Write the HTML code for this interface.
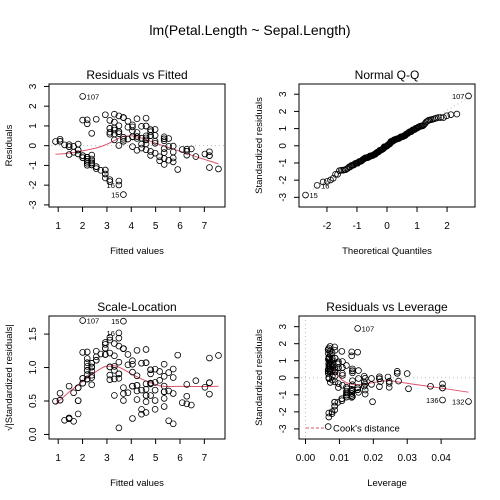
<!DOCTYPE html>
<html><head><meta charset="utf-8"><style>
html,body{margin:0;padding:0;background:#fff;width:500px;height:500px;overflow:hidden}
svg{display:block;font-family:"Liberation Sans",Arial,sans-serif}
</style></head><body>
<svg id="chart" width="500" height="500" viewBox="0 0 500 500" xmlns="http://www.w3.org/2000/svg">
<rect width="500" height="500" fill="#fff"/>
<text x="250" y="35" text-anchor="middle" font-size="14">lm(Petal.Length ~ Sepal.Length)</text>
</svg>
<script>
// iris data
const sepalLength = [5.1,4.9,4.7,4.6,5.0,5.4,4.6,5.0,4.4,4.9,5.4,4.8,4.8,4.3,5.8,5.7,5.4,5.1,5.7,5.1,5.4,5.1,4.6,5.1,4.8,5.0,5.0,5.2,5.2,4.7,4.8,5.4,5.2,5.5,4.9,5.0,5.5,4.9,4.4,5.1,5.0,4.5,4.4,5.0,5.1,4.8,5.1,4.6,5.3,5.0,
7.0,6.4,6.9,5.5,6.5,5.7,6.3,4.9,6.6,5.2,5.0,5.9,6.0,6.1,5.6,6.7,5.6,5.8,6.2,5.6,5.9,6.1,6.3,6.1,6.4,6.6,6.8,6.7,6.0,5.7,5.5,5.5,5.8,6.0,5.4,6.0,6.7,6.3,5.6,5.5,5.5,6.1,5.8,5.0,5.6,5.7,5.7,6.2,5.1,5.7,
6.3,5.8,7.1,6.3,6.5,7.6,4.9,7.3,6.7,7.2,6.5,6.4,6.8,5.7,5.8,6.4,6.5,7.7,7.7,6.0,6.9,5.6,7.7,6.3,6.7,7.2,6.2,6.1,6.4,7.2,7.4,7.9,6.4,6.3,6.1,7.7,6.3,6.4,6.0,6.9,6.7,6.9,5.8,6.8,6.7,6.7,6.3,6.5,6.2,5.9];
const petalLength = [1.4,1.4,1.3,1.5,1.4,1.7,1.4,1.5,1.4,1.5,1.5,1.6,1.4,1.1,1.2,1.5,1.3,1.4,1.7,1.5,1.7,1.5,1.0,1.7,1.9,1.6,1.6,1.5,1.4,1.6,1.6,1.5,1.5,1.4,1.5,1.2,1.3,1.4,1.3,1.5,1.3,1.3,1.3,1.6,1.9,1.4,1.6,1.4,1.5,1.4,
4.7,4.5,4.9,4.0,4.6,4.5,4.7,3.3,4.6,3.9,3.5,4.2,4.0,4.7,3.6,4.4,4.5,4.1,4.5,3.9,4.8,4.0,4.9,4.7,4.3,4.4,4.8,5.0,4.5,3.5,3.8,3.7,3.9,5.1,4.5,4.5,4.7,4.4,4.1,4.0,4.4,4.6,4.0,3.3,4.2,4.2,4.2,4.3,3.0,4.1,
6.0,5.1,5.9,5.6,5.8,6.6,4.5,6.3,5.8,6.1,5.1,5.3,5.5,5.0,5.1,5.3,5.5,6.7,6.9,5.0,5.7,4.9,6.7,4.9,5.7,6.0,4.8,4.9,5.6,5.8,6.1,6.4,5.6,5.1,5.6,6.1,5.6,5.5,4.8,5.4,5.6,5.1,5.1,5.9,5.7,5.2,5.0,5.2,5.4,5.1];
const ticksFitted = [1,2,3,4,5,6,7];
const ticksResid = [-3,-2,-1,0,1,2,3];
const ticksTheo = [-2,-1,0,1,2];
const ticksSqrt = [0,0.5,1,1.5];
const ticksSqrtLabels = ["0.0","0.5","1.0","1.5"];
const ticksLev = [0,0.01,0.02,0.03,0.04];
const ticksLevLabels = ["0.00","0.01","0.02","0.03","0.04"];

const NS="http://www.w3.org/2000/svg";
const svg=document.getElementById('chart');
function el(tag,attrs,parent,txt){const e=document.createElementNS(NS,tag);for(const k in attrs)e.setAttribute(k,attrs[k]);if(txt!==undefined)e.textContent=txt;(parent||svg).appendChild(e);return e;}

// regression
const n=sepalLength.length;
const mx=sepalLength.reduce((a,b)=>a+b,0)/n, my=petalLength.reduce((a,b)=>a+b,0)/n;
let sxx=0,sxy=0;for(let i=0;i<n;i++){sxx+=(sepalLength[i]-mx)**2;sxy+=(sepalLength[i]-mx)*(petalLength[i]-my);}
const b1=sxy/sxx,b0=my-b1*mx;
const fitted=sepalLength.map(x=>b0+b1*x);
const resid=petalLength.map((y,i)=>y-fitted[i]);
const sigma=Math.sqrt(resid.reduce((a,r)=>a+r*r,0)/(n-2));
const hat=sepalLength.map(x=>1/n+(x-mx)**2/sxx);
const rstd=resid.map((r,i)=>r/(sigma*Math.sqrt(1-hat[i])));
const sqrtAbs=rstd.map(r=>Math.sqrt(Math.abs(r)));
const cook=rstd.map((r,i)=>r*r*hat[i]/(2*(1-hat[i])));

function qnorm(p){const a=[-39.69683028665376,220.9460984245205,-275.9285104469687,138.3577518672690,-30.66479806614716,2.506628277459239],
b=[-54.47609879822406,161.5858368580409,-155.6989798598866,66.80131188771972,-13.28068155288572],
c=[-0.007784894002430293,-0.3223964580411365,-2.400758277161838,-2.549732539343734,4.374664141464968,2.938163982698783],
d=[0.007784695709041462,0.3224671290700398,2.445134137142996,3.754408661907416];
const pl=0.02425;let q,r;
if(p<pl){q=Math.sqrt(-2*Math.log(p));return(((((c[0]*q+c[1])*q+c[2])*q+c[3])*q+c[4])*q+c[5])/((((d[0]*q+d[1])*q+d[2])*q+d[3])*q+1);}
if(p>1-pl){q=Math.sqrt(-2*Math.log(1-p));return-(((((c[0]*q+c[1])*q+c[2])*q+c[3])*q+c[4])*q+c[5])/((((d[0]*q+d[1])*q+d[2])*q+d[3])*q+1);}
q=p-0.5;r=q*q;return(((((a[0]*r+a[1])*r+a[2])*r+a[3])*r+a[4])*r+a[5])*q/(((((b[0]*r+b[1])*r+b[2])*r+b[3])*r+b[4])*r+1);}

function lowess(x,y,f,iter){
  const idx=x.map((_,i)=>i).sort((a,b)=>x[a]-x[b]);
  const xs=idx.map(i=>x[i]),ys=idx.map(i=>y[i]);const m=xs.length;
  const ns=Math.max(2,Math.min(m,Math.floor(f*m+1e-7)));
  const range=xs[m-1]-xs[0];
  let rw=new Array(m).fill(1),fit=new Array(m).fill(0);
  for(let it=0;it<=iter;it++){
    let nl=0,nr=ns-1;
    for(let i=0;i<m;i++){
      while(nr<m-1&&xs[i]-xs[nl]>xs[nr+1]-xs[i]){nl++;nr++;}
      const h=Math.max(xs[i]-xs[nl],xs[nr]-xs[i]);const h9=.999*h,h1=.001*h;
      let w=[],sw=0;
      for(let j=0;j<m;j++){const r=Math.abs(xs[j]-xs[i]);let wj=0;if(r<=h9){wj=r<=h1?1:Math.pow(1-Math.pow(r/h,3),3);wj*=rw[j];}w.push(wj);sw+=wj;}
      if(sw<=0){fit[i]=ys[i];continue;}
      for(let j=0;j<m;j++)w[j]/=sw;
      let a=0;for(let j=0;j<m;j++)a+=w[j]*xs[j];
      let bb=0;for(let j=0;j<m;j++)bb+=w[j]*(xs[j]-a)**2;
      if(h>0&&Math.sqrt(bb)>.001*range){const bcoef=(xs[i]-a)/bb;for(let j=0;j<m;j++)w[j]*=(1+bcoef*(xs[j]-a));}
      let s=0;for(let j=0;j<m;j++)s+=w[j]*ys[j];fit[i]=s;
    }
    if(it===iter)break;
    const res=ys.map((v,i)=>v-fit[i]);const ar=res.map(Math.abs).sort((a,b)=>a-b);
    const med=m%2?ar[(m-1)/2]:(ar[m/2-1]+ar[m/2])/2;const cmad=6*med;
    if(cmad<1e-7*ar[m-1])break;
    rw=res.map(r=>{r=Math.abs(r);return r<=.001*cmad?1:r>.999*cmad?0:(1-(r/cmad)**2)**2;});
  }
  return {x:xs,y:fit};
}
function ext(lo,hi,f){const d=hi-lo;return[lo-f*d,hi+f*d];}
const mn=a=>Math.min(...a),mxa=a=>Math.max(...a);

const boxes=[{x0:49,x1:225,y0:84,y1:207},{x0:299,x1:475,y0:84,y1:207},{x0:49,x1:225,y0:316,y1:439},{x0:299,x1:475,y0:316,y1:439}];
let clipN=0;
function panel(k,opt){
  const B=boxes[k];
  const g=el('g',{},svg);
  
  
  const [xl,xh]=ext(opt.xlim[0],opt.xlim[1],0.04),[yl,yh]=ext(opt.ylim[0],opt.ylim[1],0.04);
  const X=v=>B.x0+(v-xl)/(xh-xl)*(B.x1-B.x0),Y=v=>B.y1-(v-yl)/(yh-yl)*(B.y1-B.y0);
  const cid='clip'+(clipN++);
  const cp=el('clipPath',{id:cid},g);el('rect',{x:B.x0,y:B.y0,width:B.x1-B.x0,height:B.y1-B.y0},cp);
  const inner=el('g',{'clip-path':'url(#'+cid+')'},g);
  if(opt.refs)opt.refs(inner,X,Y,xl,xh,yl,yh);
  const ptsG=el('g',{},g);
  
  
  for(let i=0;i<opt.px.length;i++){
    const c=el('circle',{cx:X(opt.px[i]).toFixed(2),cy:Y(opt.py[i]).toFixed(2),r:2.9,fill:'none',stroke:'#000','stroke-width':0.8},ptsG);
    
    
  }
  if(opt.smooth){const s=opt.smooth;const d=s.x.map((v,i)=>(i?'L':'M')+X(v).toFixed(2)+','+Y(s.y[i]).toFixed(2)).join('');
    const p=el('path',{d:d,fill:'none',stroke:'#DF536B','stroke-width':1},inner);
    
    }
  // id labels
  if(opt.ids){const ids=opt.ids;const lx=ids.map(i=>opt.lx[i]);const mid=(mn(lx)+mxa(lx))/2;
    ids.forEach((i,j)=>{const x=X(opt.lx[i]),y=Y(opt.ly[i]);const right=opt.lx[i]<=mid;
      const t=el('text',{x:right?x+4:x-4,y:y+3,'font-size':7.5,'text-anchor':right?'start':'end',fill:'#000'},g,String(opt.labels[j]));
      
      });}
  const box=el('rect',{x:B.x0,y:B.y0,width:B.x1-B.x0,height:B.y1-B.y0,fill:'none',stroke:'#000','stroke-width':1},g);
  
  
  // x axis
  const xa=el('g',{},g);
  
  
  el('line',{x1:X(opt.xt[0]),x2:X(opt.xt[opt.xt.length-1]),y1:B.y1,y2:B.y1,stroke:'#000'},xa);
  opt.xt.forEach((t,i)=>{el('line',{x1:X(t),x2:X(t),y1:B.y1,y2:B.y1+5,stroke:'#000'},xa);
    const tx=el('text',{x:X(t),y:B.y1+22,'font-size':10,'text-anchor':'middle'},xa,opt.xtl?opt.xtl[i]:String(t));
    
    });
  const ya=el('g',{},g);
  
  
  el('line',{x1:B.x0,x2:B.x0,y1:Y(opt.yt[0]),y2:Y(opt.yt[opt.yt.length-1]),stroke:'#000'},ya);
  opt.yt.forEach((t,i)=>{el('line',{x1:B.x0-5,x2:B.x0,y1:Y(t),y2:Y(t),stroke:'#000'},ya);
    const tx=el('text',{x:B.x0-13,y:Y(t),'font-size':10,'text-anchor':'middle',transform:'rotate(-90 '+(B.x0-13)+' '+Y(t)+')'},ya,opt.ytl?opt.ytl[i]:String(t));
    
    });
  const ti=el('text',{x:(B.x0+B.x1)/2,y:B.y0-5,'font-size':12,'text-anchor':'middle'},g,opt.title);
  
  
  const xt=el('text',{x:(B.x0+B.x1)/2,y:B.y1+47,'font-size':9.5,'text-anchor':'middle'},g,opt.xlab);
  
  
  const yx=B.x0-37,yc=(B.y0+B.y1)/2;
  const yt=el('text',{x:yx,y:yc,'font-size':9.5,'text-anchor':'middle',transform:'rotate(-90 '+yx+' '+yc+')'},g,opt.ylab);
  
  
  return {X,Y,B,g};
}
function topIdx(arr,k){return arr.map((v,i)=>i).sort((a,b)=>arr[b]-arr[a]).slice(0,k);}

// Panel 1
const absR=resid.map(Math.abs);const id1=topIdx(absR,3);
panel(0,{name:'residuals-vs-fitted-panel',title:'Residuals vs Fitted',xlab:'Fitted values',ylab:'Residuals',
  xlim:[mn(fitted),mxa(fitted)],ylim:ext(mn(resid),mxa(resid),0.08),px:fitted,py:resid,xt:ticksFitted,yt:ticksResid,
  smooth:lowess(fitted,resid,2/3,3),ids:id1,labels:id1.map(i=>i+1),lx:fitted,ly:resid,
  refs:(g,X,Y,xl,xh)=>{el('line',{x1:X(xl)-10,x2:X(xh)+10,y1:Y(0),y2:Y(0),stroke:'#bebebe','stroke-dasharray':'1 3'},g);}});

// Panel 2 QQ
const ord=rstd.map((v,i)=>i).sort((a,b)=>rstd[a]-rstd[b]);
const theo=new Array(n);ord.forEach((i,r)=>{theo[i]=qnorm((r+1-0.5)/n);});
const srt=ord.map(i=>rstd[i]);
function quant(s,p){const h=(s.length-1)*p,lo=Math.floor(h);return s[lo]+(h-lo)*(s[lo+1]-s[lo]);}
const qy1=quant(srt,.25),qy2=quant(srt,.75),qx1=qnorm(.25),qx2=qnorm(.75);const slope=(qy2-qy1)/(qx2-qx1),icpt=qy1-slope*qx1;
const absS=rstd.map(Math.abs);const id2=topIdx(absS,3);
panel(1,{name:'normal-qq-panel',title:'Normal Q-Q',xlab:'Theoretical Quantiles',ylab:'Standardized residuals',
  xlim:[mn(theo),mxa(theo)],ylim:ext(mn(rstd),mxa(rstd),0.075),px:theo,py:rstd,xt:ticksTheo,yt:ticksResid,
  ids:id2,labels:id2.map(i=>i+1),lx:theo,ly:rstd,
  refs:(g,X,Y,xl,xh)=>{const l=el('line',{x1:X(xl),x2:X(xh),y1:Y(icpt+slope*xl),y2:Y(icpt+slope*xh),stroke:'#bebebe','stroke-dasharray':'1 3'},g);
    
    }});

// Panel 3 Scale-Location
panel(2,{name:'scale-location-panel',title:'Scale-Location',xlab:'Fitted values',ylab:'\u221A|Standardized residuals|',
  xlim:[mn(fitted),mxa(fitted)],ylim:[0,mxa(sqrtAbs)],px:fitted,py:sqrtAbs,xt:ticksFitted,yt:ticksSqrt,ytl:ticksSqrtLabels,
  smooth:lowess(fitted,sqrtAbs,2/3,3),ids:id2,labels:id2.map(i=>i+1),lx:fitted,ly:sqrtAbs});

// Panel 4 Residuals vs Leverage
const id4=topIdx(cook,3);
const p4=panel(3,{name:'residuals-vs-leverage-panel',title:'Residuals vs Leverage',xlab:'Leverage',ylab:'Standardized residuals',
  xlim:[0,mxa(hat)],ylim:ext(mn(rstd),mxa(rstd),0.08),px:hat,py:rstd,xt:ticksLev,xtl:ticksLevLabels,yt:ticksResid,
  smooth:lowess(hat,rstd,2/3,3),ids:id4,labels:id4.map(i=>i+1),lx:hat,ly:rstd,
  refs:(g,X,Y,xl,xh,yl,yh)=>{el('line',{x1:X(xl)-10,x2:X(xh)+10,y1:Y(0),y2:Y(0),stroke:'#bebebe','stroke-dasharray':'1 3'},g);
    el('line',{x1:X(0),x2:X(0),y1:Y(yl)+10,y2:Y(yh)-10,stroke:'#bebebe','stroke-dasharray':'1 3'},g);}});
const lg=el('g',{},p4.g);


const ly=p4.B.y1-11;
el('line',{x1:p4.B.x0+7,x2:p4.B.x0+27,y1:ly,y2:ly,stroke:'#DF536B','stroke-dasharray':'3 2'},lg);
el('text',{x:p4.B.x0+34,y:ly+3.5,'font-size':9.5},lg,"Cook's distance");
</script>
</body></html>
